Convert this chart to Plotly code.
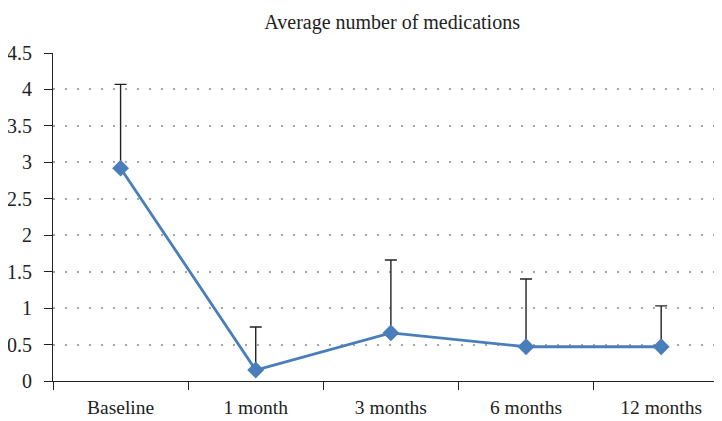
import plotly.graph_objects as go

categories = ["Baseline", "1 month", "3 months", "6 months", "12 months"]
means = [2.92, 0.15, 0.66, 0.47, 0.47]
errors_up = [1.15, 0.59, 1.00, 0.93, 0.56]
y_ticks = [0, 0.5, 1, 1.5, 2, 2.5, 3, 3.5, 4, 4.5]
y_tick_labels = ["0", "0.5", "1", "1.5", "2", "2.5", "3", "3.5", "4", "4.5"]

FONT = "Liberation Serif"
BLUE = "#4a7ebb"
INK = "#222222"

fig = go.Figure()
fig.add_trace(go.Scatter(
    x=categories,
    y=means,
    mode="lines+markers",
    line=dict(color=BLUE, width=2.8),
    marker=dict(symbol="diamond", size=13, color=BLUE),
    error_y=dict(type="data", symmetric=False, array=errors_up,
                 arrayminus=[0] * len(means), color=INK,
                 thickness=1.4, width=6),
    showlegend=False,
))

fig.update_layout(
    width=714, height=413,
    margin=dict(l=45, r=0, t=45, b=40),
    paper_bgcolor="white", plot_bgcolor="white",
    font=dict(family=FONT, size=20, color=INK),
    title=dict(text="Average number of medications", x=0.538, xanchor="center",
               y=0.966, yanchor="middle", font=dict(family=FONT, size=20, color=INK)),
    xaxis=dict(
        type="category", categoryorder="array", categoryarray=categories,
        range=[-0.5, 4.45], showgrid=False, zeroline=False,
        showline=True, linecolor=INK, linewidth=1,
        ticks="outside", tickson="boundaries", ticklen=8, tickcolor=INK,
        ticklabelstandoff=9,
        tickfont=dict(family=FONT, size=19.5, color=INK),
    ),
    yaxis=dict(
        tickmode="array", tickvals=y_ticks, ticktext=y_tick_labels,
        range=[0, 4.5], showgrid=True, gridcolor="#a6a6a6", griddash="2px,10px", gridwidth=1.5,
        zeroline=False, showline=True, linecolor=INK, linewidth=1,
        ticks="outside", ticklen=8, tickcolor=INK,
        ticklabelstandoff=8,
        tickfont=dict(family=FONT, size=20, color=INK),
    ),
)

fig.write_html("out.html")
